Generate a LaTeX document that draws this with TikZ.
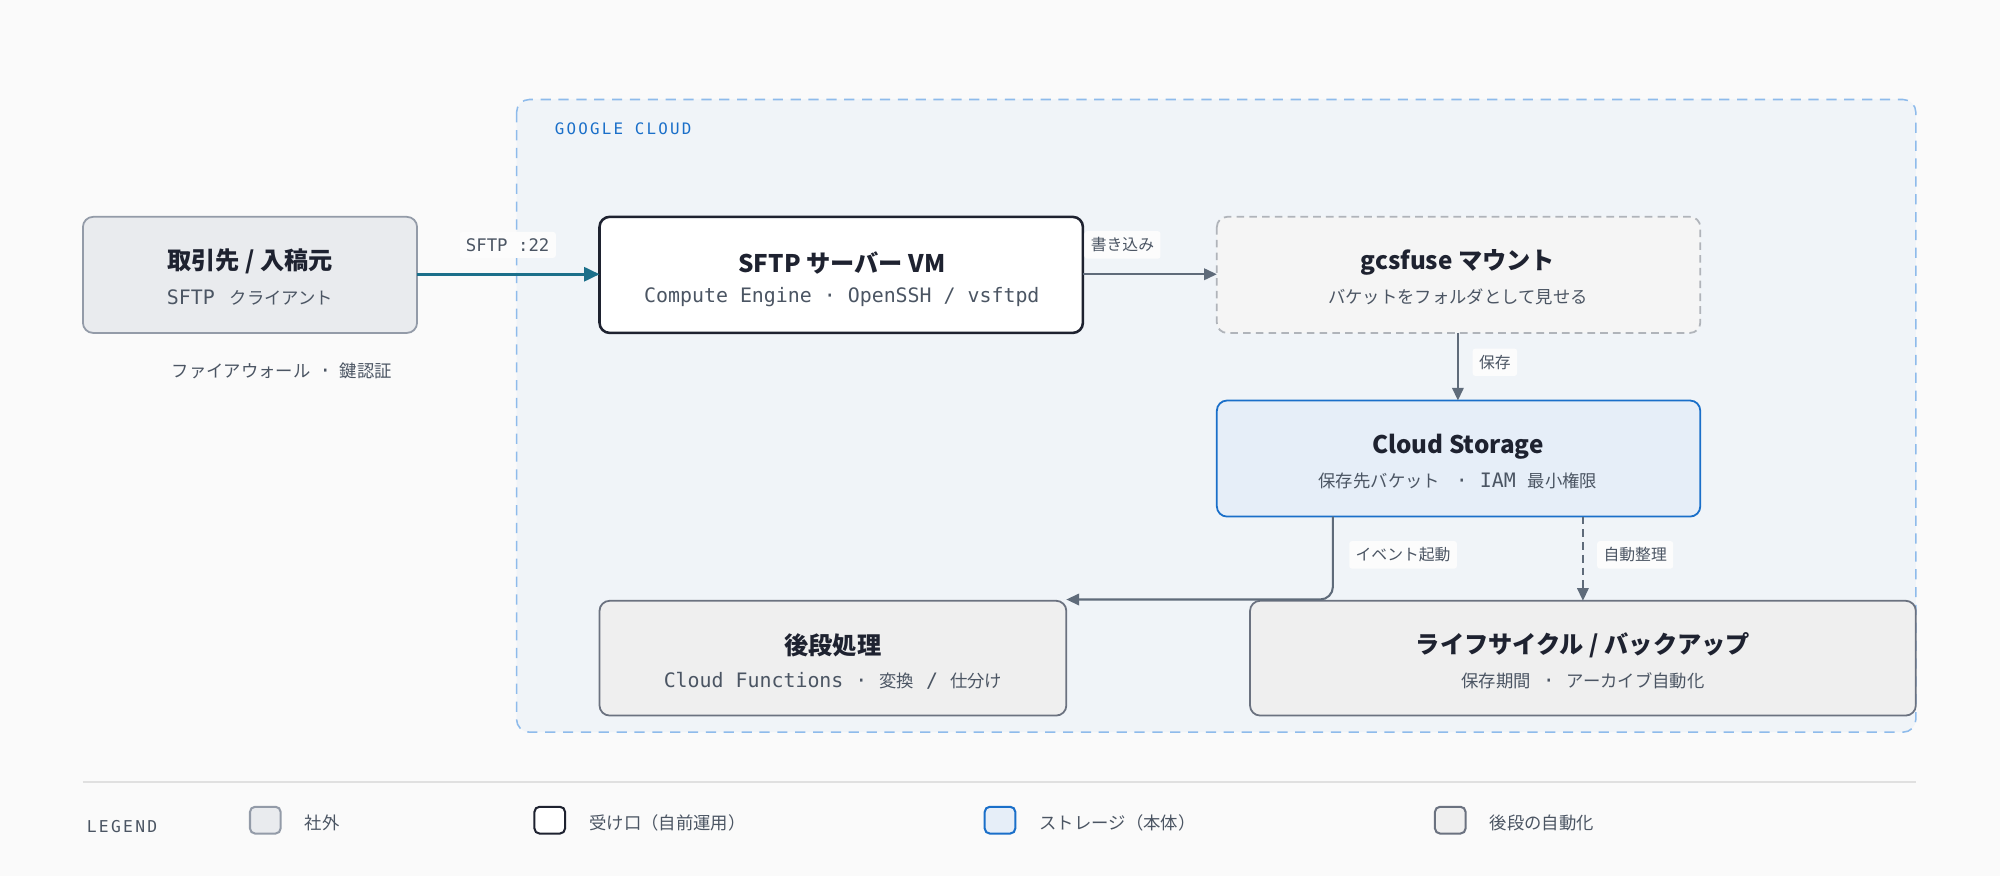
\documentclass[tikz,border=0pt]{standalone}
\usepackage{fontspec}
\setmainfont{Noto Sans CJK JP}
\newfontfamily\jp{Noto Sans CJK JP}
\newfontfamily\mono{DejaVu Sans Mono}
\newfontfamily\monosp{DejaVu Sans Mono}[LetterSpace=14]
\usetikzlibrary{arrows.meta}
\definecolor{bg}{HTML}{FAFAFA}
\definecolor{gcfill}{HTML}{F0F4F8}
\definecolor{gcline}{HTML}{8EBBEB}
\definecolor{gcblue}{HTML}{1A6FC9}
\definecolor{extfill}{HTML}{E9EBEE}
\definecolor{extline}{HTML}{939BA8}
\definecolor{dark}{HTML}{1E2230}
\definecolor{sub}{HTML}{4B5563}
\definecolor{teal}{HTML}{1B6F8A}
\definecolor{arr}{HTML}{5F6B7A}
\definecolor{stfill}{HTML}{E6EEF8}
\definecolor{autofill}{HTML}{EFEFEF}
\definecolor{autoline}{HTML}{6B7280}
\definecolor{fusefill}{HTML}{F5F5F5}
\definecolor{fuseline}{HTML}{B0B4BA}
\newcommand\mm[1]{{\mono\fontsize{7.8}{8}\selectfont #1}}
\begin{document}
\begin{tikzpicture}[x=0.5pt,y=-0.5pt,
 box/.style={rounded corners=4pt,line width=0.7pt},
 ttl/.style={font=\jp\bfseries\fontsize{9.5}{11}\selectfont,text=dark},
 st/.style={font=\fontsize{6.8}{8}\selectfont,text=sub},
 lbl/.style={font=\fontsize{6.2}{7}\selectfont,text=sub,fill=bg!60!white,rounded corners=1pt,inner sep=2.5pt},
 ar/.style={-{Triangle[length=5pt,width=4.5pt]},line width=0.8pt,draw=arr},
 leg/.style={rounded corners=2pt,line width=0.8pt,minimum width=12pt,minimum height=10.5pt,inner sep=0pt},
 legt/.style={font=\fontsize{6.8}{8}\selectfont,text=sub,anchor=west}]
\fill[bg] (0,0) rectangle (1568,687);
\useasboundingbox (0,0) rectangle (1568,687);
\draw[gcline,fill=gcfill,dashed,dash pattern=on 4pt off 3pt,rounded corners=5pt,line width=0.6pt] (405,78) rectangle (1502,574);
\node[anchor=west,font=\monosp\fontsize{6.2}{7}\selectfont,text=gcblue] (gc) at (428,101) {GOOGLE CLOUD};
\draw[box,fill=extfill,draw=extline] (65,170) rectangle (327,261);
\node[ttl] (clientT) at (196,205) {取引先 / 入稿元};
\node[st] (client) at (196,233) {\mm{SFTP }\,クライアント};
\node[st] (fw) at (221,291) {ファイアウォール \;\mm{·}\; 鍵認証};
\draw[box,fill=white,draw=dark,line width=1pt] (470,170) rectangle (849,261);
\node[ttl] (vmT) at (660,206) {SFTP サーバー VM};
\node[st] (vm) at (660,233) {\mm{Compute Engine · OpenSSH / vsftpd}};
\draw[box,fill=fusefill,draw=fuseline,dashed,dash pattern=on 3pt off 2pt] (954,170) rectangle (1333,261);
\node[ttl] (fuseT) at (1143,206) {gcsfuse マウント};
\node[st] (fuse) at (1143,233) {バケットをフォルダとして見せる};
\draw[box,fill=stfill,draw=gcblue] (954,314) rectangle (1333,405);
\node[ttl] (stT) at (1143,350) {Cloud Storage};
\node[st] (stS) at (1143,377) {保存先バケット \mm{ · IAM }最小権限};
\draw[box,fill=autofill,draw=autoline] (470,471) rectangle (836,561);
\node[ttl] (postT) at (653,506) {後段処理};
\node[st] (post) at (653,534) {\mm{Cloud Functions · }変換\mm{ / }仕分け};
\draw[box,fill=autofill,draw=autoline] (980,471) rectangle (1502,561);
\node[ttl] (lifeT) at (1241,506) {ライフサイクル / バックアップ};
\node[st] (life) at (1241,534) {保存期間\mm{ · }アーカイブ自動化};
\coordinate (c1) at (327,215); \coordinate (v1) at (470,215);
\coordinate (v2) at (849,215); \coordinate (f1) at (954,215);
\coordinate (f2) at (1143,261); \coordinate (s1) at (1143,314);
\coordinate (s2) at (1045,405); \coordinate (p1) at (836,470);
\coordinate (s3) at (1241,405); \coordinate (l1) at (1241,471);
\draw[ar,draw=teal,line width=1pt,-{Triangle[length=6pt,width=5.5pt]}] (c1) -- (v1);
\node[lbl,font=\mono\fontsize{6.8}{7}\selectfont] at (398,192) {SFTP :22};
\draw[ar] (v2) -- (f1);
\node[lbl] at (880,192) {書き込み};
\draw[ar] (f2) -- (s1);
\node[lbl] at (1172,284) {保存};
\draw[ar,rounded corners=5pt] (s2) -- (1045,470) -- (p1);
\node[lbl] at (1100,435) {イベント起動};
\draw[ar,dashed,dash pattern=on 3pt off 2pt] (s3) -- (l1);
\node[lbl] at (1282,435) {自動整理};
\draw[line width=1pt,draw=black!12] (65,613) -- (1502,613);
\node[anchor=west,font=\monosp\fontsize{6.4}{7}\selectfont,text=sub] (lg) at (61,648) {LEGEND};
\node[leg,fill=extfill,draw=extline] (k1) at (208,643) {};
\node[legt] at (232,645) {社外};
\node[leg,fill=white,draw=dark] (k2) at (431,643) {};
\node[legt] at (455,645) {受け口（自前運用）};
\node[leg,fill=stfill,draw=gcblue] (k3) at (784,643) {};
\node[legt] at (808,645) {ストレージ（本体）};
\node[leg,fill=autofill,draw=autoline] (k4) at (1137,643) {};
\node[legt] at (1161,645) {後段の自動化};
\end{tikzpicture}
\end{document}
